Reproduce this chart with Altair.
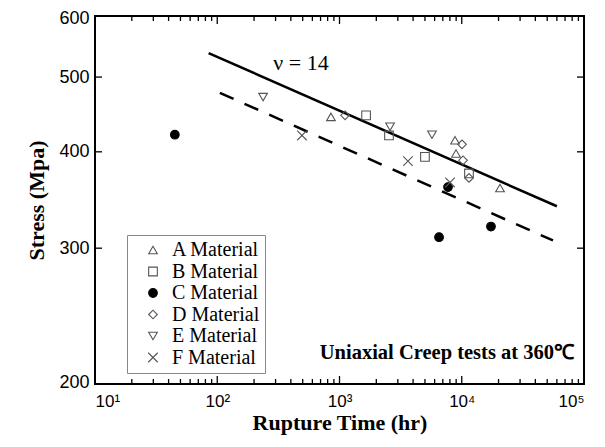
import altair as alt
import pandas as pd

materials = ["A Material", "B Material", "C Material", "D Material", "E Material", "F Material"]
A_time = [851, 8810, 8980, 20560]
A_stress = [444, 414, 398, 359]
B_time = [1650, 2540, 5000, 11460]
B_stress = [446, 420, 394, 375]
C_time = [45, 7720, 6520, 17340]
C_stress = [421, 360, 310, 320]
D_time = [1110, 10050, 10240, 11460]
D_stress = [446, 409, 390, 370]
E_time = [237, 2590, 5710]
E_stress = [471, 431, 421]
F_time = [493, 3630, 8020]
F_stress = [420, 389, 365]

solid_time = [85, 60000]
solid_stress = [537, 340]
dashed_time = [105, 55750]
dashed_stress = [477, 307]

x_major = [10, 100, 1000, 10000, 100000]
x_minor = [m * 10 ** k for k in range(1, 5) for m in range(2, 10)]
y_ticks = [300, 400, 500]
y_labels = [200, 300, 400, 500, 600]

W, H = 489, 368

rows = []
for name, ts, ss in zip(materials, [A_time, B_time, C_time, D_time, E_time, F_time],
                        [A_stress, B_stress, C_stress, D_stress, E_stress, F_stress]):
    for t, s in zip(ts, ss):
        rows.append({"material": name, "time": t, "stress": s})
pts = pd.DataFrame(rows)

xs = alt.Scale(type="log", domain=[10, 100000], nice=False)
ys = alt.Scale(type="log", domain=[200, 600], nice=False)

xaxis = alt.Axis(values=x_major, ticks=False, domain=False, grid=False,
                 labelExpr="'10' + ['⁰','¹','²','³','⁴','⁵'][round(log(datum.value)/LN10)]",
                 labelFont="Liberation Sans", labelFontSize=17, labelPadding=9, labelColor="black",
                 title="Rupture Time (hr)", titleFont="Liberation Serif", titleFontSize=22,
                 titleFontWeight="bold", titlePadding=3, titleColor="black")
yaxis = alt.Axis(values=y_labels, ticks=False, domain=False, grid=False,
                 labelFont="Liberation Sans", labelFontSize=18, labelPadding=6, labelColor="black",
                 labelFlush=True, labelFlushOffset=7,
                 title="Stress (Mpa)", titleFont="Liberation Serif", titleFontSize=22,
                 titleFontWeight="bold", titlePadding=10, titleColor="black")

shape_range = ["triangle-up", "square", "circle", "diamond", "triangle-down",
               "M-1.1,-1.1L1.1,1.1M-1.1,1.1L1.1,-1.1"]
fill_range = ["transparent", "transparent", "black", "transparent", "transparent", "transparent"]
stroke_range = ["#555555", "#555555", "black", "#555555", "#555555", "#555555"]

points = alt.Chart(pts).mark_point(filled=True, size=75, strokeWidth=1.1, opacity=1).encode(
    x=alt.X("time:Q", scale=xs, axis=xaxis),
    y=alt.Y("stress:Q", scale=ys, axis=yaxis),
    shape=alt.Shape("material:N", scale=alt.Scale(domain=materials, range=shape_range), title=None),
    fill=alt.Fill("material:N", scale=alt.Scale(domain=materials, range=fill_range), title=None),
    stroke=alt.Stroke("material:N", scale=alt.Scale(domain=materials, range=stroke_range), title=None),
)

solid = alt.Chart(pd.DataFrame({"time": solid_time, "stress": solid_stress})).mark_line(
    color="black", strokeWidth=2.5).encode(x=alt.X("time:Q", scale=xs), y=alt.Y("stress:Q", scale=ys))
dashed = alt.Chart(pd.DataFrame({"time": dashed_time, "stress": dashed_stress})).mark_line(
    color="black", strokeWidth=2.5, strokeDash=[15, 12]).encode(
    x=alt.X("time:Q", scale=xs), y=alt.Y("stress:Q", scale=ys))

nu_text = alt.Chart(pd.DataFrame({"time": [484], "stress": [522], "t": ["ν = 14"]})).mark_text(
    font="Liberation Serif", fontSize=22, color="black").encode(
    x=alt.X("time:Q", scale=xs), y=alt.Y("stress:Q", scale=ys), text="t:N")
title_text = alt.Chart(pd.DataFrame({"time": [82800], "stress": [219.3],
                                     "t": ["Uniaxial Creep tests at 360℃"]})).mark_text(
    font="Liberation Serif", fontSize=20.5, fontWeight="bold", color="black", align="right").encode(
    x=alt.X("time:Q", scale=xs), y=alt.Y("stress:Q", scale=ys), text="t:N")

minor_df = pd.DataFrame({"v": x_minor})
major_df = pd.DataFrame({"v": x_major[1:-1]})
ytick_df = pd.DataFrame({"v": y_ticks})

def xtick(df, ya, yb):
    return alt.Chart(df).mark_rule(color="black", strokeWidth=1.3).encode(
        x=alt.X("v:Q", scale=xs), y=alt.value(ya), y2=alt.value(yb))

def ytick(xa, xb):
    return alt.Chart(ytick_df).mark_rule(color="black", strokeWidth=1.3).encode(
        y=alt.Y("v:Q", scale=ys), x=alt.value(xa), x2=alt.value(xb))

ticks = [xtick(minor_df, H, H - 5), xtick(major_df, H, H - 8),
         xtick(minor_df, 0, 5), xtick(major_df, 0, 8),
         ytick(0, 7), ytick(W - 7, W)]

chart = alt.layer(*ticks, solid, dashed, points, nu_text, title_text).properties(
    width=W, height=H,
    autosize=alt.AutoSizeParams(type="none"),
    padding={"left": 87, "top": 8, "right": 13, "bottom": 52},
).configure_view(stroke="black", strokeWidth=2).configure_legend(
    orient="none", legendX=32, legendY=219, direction="vertical",
    strokeColor="#888888", strokeWidth=1, fillColor="white", padding=5,
    labelFont="Liberation Serif", labelFontSize=20, labelColor="black", labelOffset=9,
    symbolOffset=11, symbolSize=75, symbolStrokeWidth=1.1, rowPadding=1.5, labelLimit=200,
)

chart.save("out.html", embed_options={"renderer": "svg", "actions": False})
